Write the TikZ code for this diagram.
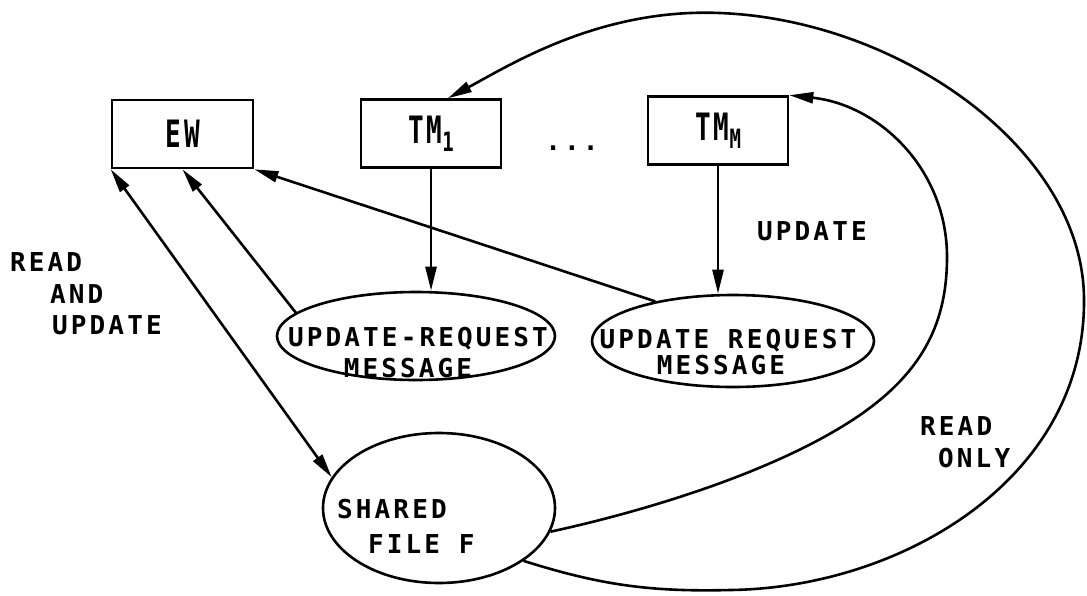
\documentclass[tikz,border=0pt]{standalone}
\usepackage{fontspec}
\usepackage{graphicx}
\setmainfont{DejaVu Sans Mono}[LetterSpace=12]
\usetikzlibrary{arrows.meta,shapes.geometric}
% tall lettering used inside the process boxes
\newcommand\boxlabel[1]{\scalebox{1}[1.45]{#1}}
\newcommand\lowidx[1]{\raisebox{-8pt}{\fontsize{19}{19}\selectfont\scalebox{1}[1.4]{#1}}}
\tikzset{
  wire/.style={line width=2.6pt},
  flow/.style={wire,-{Triangle[length=24pt,width=11pt]}},
  both/.style={wire,{Triangle[length=24pt,width=11pt]}-{Triangle[length=24pt,width=11pt]}},
  unit/.style={draw,line width=2.6pt,minimum height=68pt,inner sep=0pt,
    font=\fontsize{26}{30}\selectfont\bfseries},
  blob/.style={draw,ellipse,line width=2.6pt,inner sep=0pt},
  txt/.style={inner sep=0pt,font=\fontsize{26}{30}\selectfont\bfseries},
}
\begin{document}
\begin{tikzpicture}[x=1pt,y=-1pt]
\useasboundingbox (0,0) rectangle (1087,595);

% processes
\node[unit,minimum width=141pt] (ew)  at (182.5,134)  {\boxlabel{EW}};
\node[unit,minimum width=140pt] (tm1) at (431,133.5)  {\boxlabel{TM}\lowidx{1}};
\node[txt,anchor=base]          (dots) at (572,150)   {...};
\node[unit,minimum width=140pt] (tmm) at (718,130.5)  {\boxlabel{TM}\lowidx{M}};

% messages and the shared file
\node[blob,minimum width=278pt,minimum height=88pt]  (req1)   at (416,336) {};
\node[blob,minimum width=282pt,minimum height=92pt]  (req2)   at (733,341) {};
\node[blob,minimum width=232pt,minimum height=150pt] (shared) at (439,508) {};

\node[txt,anchor=base] (r1a) at (418,346) {UPDATE-REQUEST};
\node[txt,anchor=base] (r1b) at (408,377) {MESSAGE};
\node[txt,anchor=base] (r2a) at (728,348) {UPDATE REQUEST};
\node[txt,anchor=base] (r2b) at (721,374) {MESSAGE};
\node[txt,anchor=base west] (sh1) at (337,518) {SHARED};
\node[txt,anchor=base west] (sh2) at (368,553) {FILE F};

% access labels
\node[txt,anchor=base west] (la1) at (10,271)  {READ};
\node[txt,anchor=base west] (la2) at (50,303)  {AND};
\node[txt,anchor=base west] (la3) at (52,334)  {UPDATE};
\node[txt,anchor=base west] (lu)  at (757,240) {UPDATE};
\node[txt,anchor=base west] (lr1) at (920,435) {READ};
\node[txt,anchor=base west] (lr2) at (938,467) {ONLY};

% connectors
\draw[flow] (tm1.south) -- (tm1.south |- req1.north);
\draw[flow] (tmm.south) -- (tmm.south |- req2.north);
\draw[flow] (req1.169) -- (ew.south);
\draw[flow] (req2.153) -- (ew.south east);
\draw[both] (ew.south west) -- (shared.164);

% read-only access of the managers
\draw[flow] (shared.-12) .. controls (650,510) and (780,470) .. (860,415)
  .. controls (925,370) and (947,320) .. (947,257)
  .. controls (947,170) and (880,105) .. (tmm.north east);
\draw[flow] (shared.-32) .. controls (600,585) and (650,592) .. (730,590)
  .. controls (900,588) and (1085,480) .. (1084,300)
  .. controls (1084,150) and (900,20) .. (720,13)
  .. controls (600,8) and (510,65) .. ([xshift=17pt]tm1.north);
\end{tikzpicture}
\end{document}
